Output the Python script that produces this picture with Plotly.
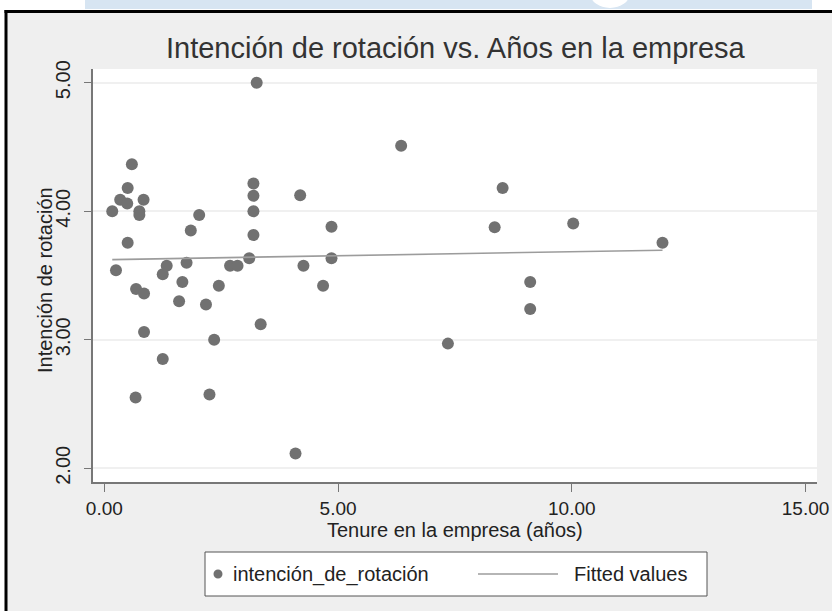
import numpy as np
import plotly.graph_objects as go

# Years in the company (tenure) and turnover intention for each respondent
tenure = [0.17, 0.25, 0.34, 0.49, 0.50, 0.50, 0.59, 0.67, 0.68, 0.75,
          0.75, 0.84, 0.85, 0.85, 1.25, 1.25, 1.335, 1.60, 1.67, 1.76,
          1.85, 2.03, 2.175, 2.25, 2.35, 2.45, 2.69, 2.85, 3.10, 3.19,
          3.19, 3.19, 3.19, 3.26, 3.345, 4.09, 4.19, 4.26, 4.68, 4.86,
          4.86, 6.35, 7.35, 8.35, 8.52, 9.11, 9.11, 10.03, 11.94]
intencion = [4.00, 3.54, 4.09, 4.06, 4.18, 3.755, 4.365, 2.55, 3.395, 4.00,
             3.97, 4.09, 3.36, 3.06, 3.51, 2.85, 3.575, 3.30, 3.45, 3.60,
             3.85, 3.97, 3.275, 2.575, 3.00, 3.42, 3.575, 3.575, 3.635, 4.215,
             4.12, 4.00, 3.815, 5.00, 3.12, 2.115, 4.125, 3.575, 3.42, 3.88,
             3.635, 4.51, 2.97, 3.875, 4.18, 3.45, 3.24, 3.905, 3.755]

x_ticks = [0, 5, 10, 15]
x_ticktext = ["0.00", "5.00", "10.00", "15.00"]
y_ticks = [2, 3, 4, 5]
y_ticktext = ["2.00", "3.00", "4.00", "5.00"]

# Linear fit (fitted values over the observed tenure range)
slope, intercept = np.polyfit(tenure, intencion, 1)
x_fit = np.sort(np.array(tenure))
y_fit = intercept + slope * x_fit

FONT = "Liberation Sans, Arial, Helvetica, sans-serif"
W_FIG, H_FIG = 832, 611
L, R, T, B = 93, 817, 69, 482
PW, PH = R - L, B - T


def px(x):
    return (x - L) / PW


def py(y):
    return (B - y) / PH


fig = go.Figure()
fig.add_trace(go.Scatter(
    x=tenure, y=intencion, mode="markers",
    marker=dict(size=12, color="#717171"),
    name="intención_de_rotación", hoverinfo="x+y",
))
fig.add_trace(go.Scatter(
    x=x_fit, y=y_fit, mode="lines",
    line=dict(color="#9c9c9c", width=1.6),
    name="Fitted values",
))

shapes = [
    # white margin above and left of the framed graph
    dict(type="rect", xref="paper", yref="paper", x0=px(0), x1=px(W_FIG),
         y0=py(11), y1=py(0), fillcolor="white", line_width=0, layer="below"),
    dict(type="rect", xref="paper", yref="paper", x0=px(0), x1=px(5),
         y0=py(H_FIG), y1=py(0), fillcolor="white", line_width=0, layer="below"),
    # pale blue banner strip at the top
    dict(type="rect", xref="paper", yref="paper", x0=px(85), x1=px(812),
         y0=py(9), y1=py(0), fillcolor="#d7e5f2", line_width=0, layer="below"),
    dict(type="circle", xref="paper", yref="paper", x0=px(590), x1=px(630),
         y0=py(8), y1=py(-22), fillcolor="white", line_width=0, layer="below"),
    # black frame
    dict(type="line", xref="paper", yref="paper", x0=px(4.5), x1=px(W_FIG),
         y0=py(11.5), y1=py(11.5), line=dict(color="black", width=3)),
    dict(type="line", xref="paper", yref="paper", x0=px(6), x1=px(6),
         y0=py(10), y1=py(H_FIG), line=dict(color="black", width=3)),
    # legend box
    dict(type="rect", xref="paper", yref="paper", x0=px(205), x1=px(707),
         y0=py(596), y1=py(552), fillcolor="white",
         line=dict(color="#555555", width=1)),
    dict(type="circle", xref="paper", yref="paper", x0=px(213.5), x1=px(222.5),
         y0=py(578.5), y1=py(569.5), fillcolor="#717171", line_width=0),
    dict(type="line", xref="paper", yref="paper", x0=px(478), x1=px(558),
         y0=py(574), y1=py(574), line=dict(color="#9c9c9c", width=1.6)),
]

annotations = [
    dict(text="Intención de rotación vs. Años en la empresa", xref="paper",
         yref="paper", x=px(456), y=py(48), xanchor="center", yanchor="middle",
         showarrow=False, font=dict(family=FONT, size=29, color="#333333")),
    dict(text="Intención de rotación", xref="paper", yref="paper",
         x=px(45), y=py(280), xanchor="center", yanchor="middle",
         textangle=-90, showarrow=False,
         font=dict(family=FONT, size=20, color="#222222")),
    dict(text="Tenure en la empresa (años)", xref="paper", yref="paper",
         x=px(455), y=py(530), xanchor="center", yanchor="middle",
         showarrow=False, font=dict(family=FONT, size=20, color="#222222")),
    dict(text="intención_de_rotación", xref="paper", yref="paper",
         x=px(231), y=py(574), xanchor="left", yanchor="middle",
         showarrow=False, font=dict(family=FONT, size=20, color="#222222")),
    dict(text="Fitted values", xref="paper", yref="paper",
         x=px(572), y=py(574), xanchor="left", yanchor="middle",
         showarrow=False, font=dict(family=FONT, size=20, color="#222222")),
]

x0_data = (L - 104.3) / 46.75
x1_data = (R - 104.3) / 46.75
y1_data = 5 + (82.7 - T) / 128.5
y0_data = 2 - (B - 468.3) / 128.5

fig.update_layout(
    template="none",
    width=W_FIG, height=H_FIG, autosize=False,
    margin=dict(l=L, r=W_FIG - R, t=T, b=H_FIG - B, pad=0),
    paper_bgcolor="#efefef", plot_bgcolor="white",
    showlegend=False,
    font=dict(family=FONT, size=20, color="#222222"),
    shapes=shapes, annotations=annotations,
    xaxis=dict(range=[x0_data, x1_data], tickvals=x_ticks, ticktext=x_ticktext,
               ticks="outside", ticklen=8, tickwidth=1.2, tickcolor="#777777",
               showline=True, linecolor="#777777", linewidth=1.5,
               showgrid=False, zeroline=False, automargin=False,
               tickfont=dict(family=FONT, size=19, color="#222222")),
    yaxis=dict(range=[y0_data, y1_data], tickvals=y_ticks, ticktext=y_ticktext,
               tickangle=-90, ticks="outside", ticklen=7, tickwidth=1.2,
               tickcolor="#777777", showline=True, linecolor="#777777",
               linewidth=1.5, showgrid=True, gridcolor="#f0f0f0", gridwidth=2,
               zeroline=False, ticklabelstandoff=6, automargin=False,
               tickfont=dict(family=FONT, size=20, color="#222222")),
)

fig.write_html("out.html")
